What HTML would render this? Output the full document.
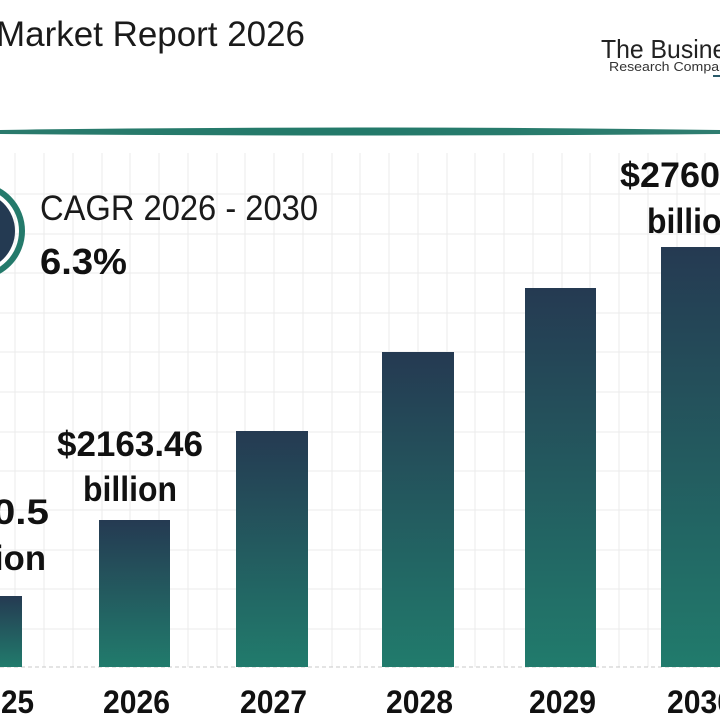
<!DOCTYPE html>
<html><head><meta charset="utf-8"><style>
html,body{margin:0;padding:0;background:#fff;width:720px;height:720px;overflow:hidden}
svg text{font-family:"Liberation Sans",Arial,sans-serif}
</style></head><body>
<svg width="720" height="720" viewBox="0 0 720 720" xmlns="http://www.w3.org/2000/svg">
<defs>
<linearGradient id="g" x1="0" y1="0" x2="0" y2="1">
<stop offset="0" stop-color="#253a52"/><stop offset="1" stop-color="#217b6c"/>
</linearGradient>
<linearGradient id="ln" x1="0" y1="0" x2="1" y2="0">
<stop offset="0" stop-color="#2a7a6c"/><stop offset="0.5" stop-color="#237a6a"/><stop offset="1" stop-color="#2f7d70"/>
</linearGradient>
</defs>
<text x="-4" y="46" font-size="35" fill="#1a1a1a" textLength="309" lengthAdjust="spacingAndGlyphs">Market Report 2026</text>
<text x="601" y="58" font-size="26" fill="#222" textLength="150" lengthAdjust="spacingAndGlyphs">The Business</text>
<text x="609" y="71" font-size="13" fill="#333" textLength="125" lengthAdjust="spacingAndGlyphs">Research Company</text>
<rect x="713" y="75" width="10" height="2" fill="#2a5a6a"/>
<path d="M0,130 Q360,125 720,130 L720,134 Q360,137 0,134 Z" fill="url(#ln)"/>
<g stroke="#ebebeb" stroke-width="1">
<path d="M15,153V667M44,153V667M73,153V667M102,153V667M130,153V667M159,153V667M188,153V667M217,153V667M245,153V667M274,153V667M303,153V667M332,153V667M360,153V667M389,153V667M418,153V667M447,153V667M475,153V667M504,153V667M533,153V667M562,153V667M590,153V667M619,153V667M648,153V667M677,153V667M705,153V667"/>
<path d="M0,194H720M0,234H720M0,273H720M0,313H720M0,352H720M0,392H720M0,432H720M0,471H720M0,510H720M0,550H720M0,589H720M0,629H720"/>
</g>
<line x1="0" y1="667" x2="720" y2="667" stroke="#c8c8c8" stroke-dasharray="4,3"/>
<rect x="-10" y="596" width="32" height="71" fill="url(#g)"/>
<rect x="99" y="520" width="71" height="147" fill="url(#g)"/>
<rect x="236" y="431" width="72" height="236" fill="url(#g)"/>
<rect x="382" y="352" width="72" height="315" fill="url(#g)"/>
<rect x="525" y="288" width="71" height="379" fill="url(#g)"/>
<rect x="661" y="247" width="72" height="420" fill="url(#g)"/>
<circle cx="-24" cy="231" r="46" fill="none" stroke="#247a6b" stroke-width="6"/>
<circle cx="-24" cy="231" r="39" fill="#243a52"/>
<text x="40" y="220" font-size="35" fill="#1a1a1a" textLength="278" lengthAdjust="spacingAndGlyphs">CAGR 2026 - 2030</text>
<text x="40" y="274" font-size="36" font-weight="bold" fill="#111" textLength="87" lengthAdjust="spacingAndGlyphs">6.3%</text>
<g font-size="35" font-weight="bold" fill="#111">
<text x="-97" y="524" textLength="146" lengthAdjust="spacingAndGlyphs">$2040.5</text>
<text x="-56" y="570" textLength="102" lengthAdjust="spacingAndGlyphs">billion</text>
<text x="57" y="456" textLength="146" lengthAdjust="spacingAndGlyphs">$2163.46</text>
<text x="83" y="501" textLength="94" lengthAdjust="spacingAndGlyphs">billion</text>
<text x="620" y="187" textLength="150" lengthAdjust="spacingAndGlyphs">$2760.38</text>
<text x="647" y="233" textLength="94" lengthAdjust="spacingAndGlyphs">billion</text>
<g font-size="32">
<text x="-32" y="713" textLength="66" lengthAdjust="spacingAndGlyphs">2025</text>
<text x="103" y="713" textLength="67" lengthAdjust="spacingAndGlyphs">2026</text>
<text x="240" y="713" textLength="67" lengthAdjust="spacingAndGlyphs">2027</text>
<text x="386" y="713" textLength="67" lengthAdjust="spacingAndGlyphs">2028</text>
<text x="529" y="713" textLength="67" lengthAdjust="spacingAndGlyphs">2029</text>
<text x="667" y="713" textLength="67" lengthAdjust="spacingAndGlyphs">2030</text>
</g>
</g>
</svg>
</body></html>
